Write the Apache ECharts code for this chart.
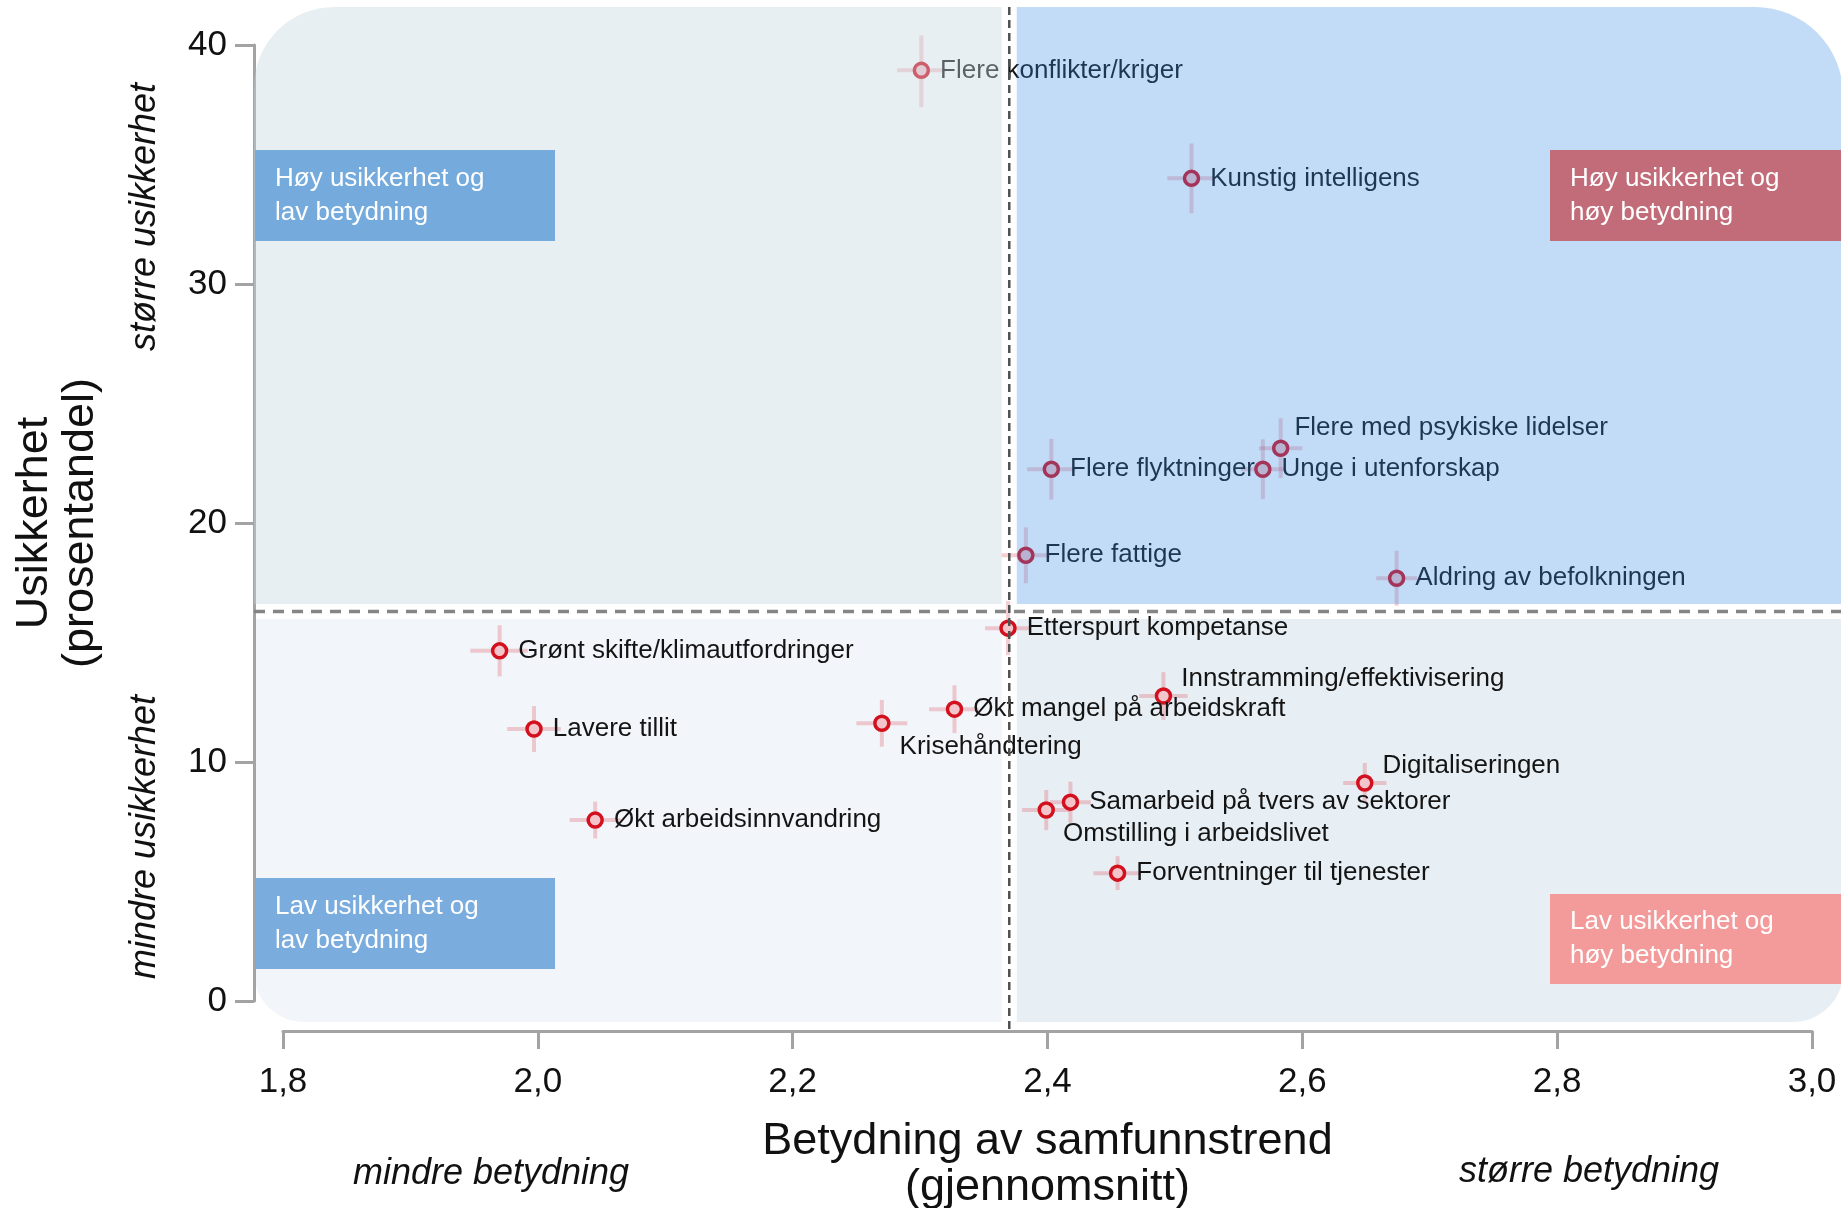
<!DOCTYPE html>
<html>
<head>
<meta charset="utf-8">
<title>Usikkerhet og betydning av samfunnstrender</title>
<script src="https://cdn.jsdelivr.net/npm/echarts@6/dist/echarts.min.js"></script>
<style>
  html, body { margin: 0; padding: 0; background: #fff; }
  #main { width: 1841px; height: 1208px; }
</style>
</head>
<body>
<div id="main"></div>
<script>
  // Samfunnstrender
  var trends = [
    'Flere konflikter/kriger', 'Kunstig intelligens', 'Flere med psykiske lidelser',
    'Unge i utenforskap', 'Flere flyktninger', 'Flere fattige', 'Aldring av befolkningen',
    'Etterspurt kompetanse', 'Grønt skifte/klimautfordringer', 'Innstramming/effektivisering',
    'Økt mangel på arbeidskraft', 'Krisehåndtering', 'Lavere tillit', 'Digitaliseringen',
    'Samarbeid på tvers av sektorer', 'Omstilling i arbeidslivet', 'Økt arbeidsinnvandring',
    'Forventninger til tjenester'
  ];
  // betydning (gjennomsnitt) with interval
  var betydning   = [2.301, 2.513, 2.583, 2.569, 2.403, 2.383, 2.674, 2.369, 1.970, 2.491, 2.327, 2.270, 1.997, 2.649, 2.418, 2.399, 2.045, 2.455];
  var betydningLo = [2.282, 2.494, 2.566, 2.552, 2.384, 2.364, 2.658, 2.351, 1.947, 2.472, 2.307, 2.250, 1.976, 2.632, 2.402, 2.380, 2.025, 2.436];
  var betydningHi = [2.320, 2.531, 2.600, 2.586, 2.422, 2.402, 2.690, 2.387, 1.992, 2.510, 2.346, 2.290, 2.018, 2.666, 2.434, 2.418, 2.065, 2.473];
  // usikkerhet (prosentandel) with interval
  var usikkerhet   = [38.94, 34.42, 23.13, 22.25, 22.25, 18.65, 17.69, 15.60, 14.65, 12.76, 12.21, 11.62, 11.38, 9.12, 8.32, 7.99, 7.57, 5.35];
  var usikkerhetLo = [37.40, 32.96, 21.88, 21.00, 20.98, 17.48, 16.54, 14.47, 13.58, 11.76, 11.21, 10.64, 10.42, 8.28, 7.46, 7.15, 6.80, 4.64];
  var usikkerhetHi = [40.40, 35.88, 24.38, 23.50, 23.52, 19.82, 18.84, 16.73, 15.72, 13.76, 13.21, 12.60, 12.34, 9.96, 9.18, 8.83, 8.34, 6.06];

  // reference lines (averages)
  var snittBetydning = 2.37;
  var snittUsikkerhet = 16.3;

  var xMin = 1.8, xMax = 3.0, xStep = 0.2;
  var yMin = 0, yMax = 40, yStep = 10;

  // labels that are not placed to the right of the marker
  var labelShift = {
    'Flere med psykiske lidelser': [-5, -20],
    'Innstramming/effektivisering': [-1, -17],
    'Digitaliseringen': [-1, -17],
    'Krisehåndtering': [-1, 24],
    'Omstilling i arbeidslivet': [-2, 24]
  };

  var FONT = '"Liberation Sans", Arial, sans-serif';

  var myChart = echarts.init(document.getElementById('main'));

  var barData = trends.map(function (n, i) {
    return [betydning[i], usikkerhet[i], betydningLo[i], betydningHi[i], usikkerhetLo[i], usikkerhetHi[i]];
  });
  var pointData = trends.map(function (n, i) {
    var item = { name: n, value: [betydning[i], usikkerhet[i]] };
    if (labelShift[n]) item.label = { offset: labelShift[n] };
    return item;
  });

  var option = {
    animation: false,
    grid: { left: 283, right: 29, top: 45, bottom: 207, show: false, outerBoundsMode: 'none' },
    xAxis: {
      type: 'value', min: xMin, max: xMax, interval: xStep, offset: 30,
      name: 'Betydning av samfunnstrend\n(gjennomsnitt)', nameLocation: 'middle', nameGap: 88,
      nameTextStyle: { fontFamily: FONT, fontSize: 45, lineHeight: 46, color: '#111' },
      axisLine: { onZero: false, lineStyle: { color: '#a3a3a3', width: 3 } },
      axisTick: { length: 18, lineStyle: { color: '#a3a3a3', width: 3 } },
      axisLabel: {
        fontFamily: FONT, fontSize: 35, color: '#111', margin: 34,
        formatter: function (v) { return v.toFixed(1).replace('.', ','); }
      },
      splitLine: { show: false }
    },
    yAxis: {
      type: 'value', min: yMin, max: yMax, interval: yStep, offset: 29,
      name: 'Usikkerhet\n(prosentandel)', nameLocation: 'middle', nameGap: 150,
      nameTextStyle: { fontFamily: FONT, fontSize: 45, lineHeight: 46, color: '#111' },
      axisLine: { onZero: false, lineStyle: { color: '#a3a3a3', width: 3 } },
      axisTick: { length: 19, lineStyle: { color: '#a3a3a3', width: 3 } },
      axisLabel: { fontFamily: FONT, fontSize: 35, color: '#111', margin: 27 },
      splitLine: { show: false }
    },
    series: [
      {
        type: 'custom',
        name: 'intervall',
        clip: false,
        z: 2,
        encode: { x: [0, 2, 3], y: [1, 4, 5] },
        data: barData,
        renderItem: function (params, api) {
          var xl = api.coord([api.value(2), api.value(1)]);
          var xh = api.coord([api.value(3), api.value(1)]);
          var yl = api.coord([api.value(0), api.value(4)]);
          var yh = api.coord([api.value(0), api.value(5)]);
          var st = { stroke: 'rgba(222,80,92,0.28)', lineWidth: 4 };
          return {
            type: 'group',
            children: [
              { type: 'line', shape: { x1: xl[0], y1: xl[1], x2: xh[0], y2: xh[1] }, style: st },
              { type: 'line', shape: { x1: yl[0], y1: yl[1], x2: yh[0], y2: yh[1] }, style: st }
            ]
          };
        }
      },
      {
        type: 'scatter',
        name: 'trender',
        z: 3,
        symbol: 'circle',
        symbolSize: 14,
        itemStyle: { color: '#f3c5ca', borderColor: '#d2101e', borderWidth: 3.5, opacity: 1 },
        label: {
          show: true, position: 'right', distance: 10,
          formatter: '{b}', fontFamily: FONT, fontSize: 26, color: '#141414'
        },
        data: pointData
      }
    ]
  };

  myChart.setOption(option);

  // quadrant panels, reference lines and notes, placed from the axes
  var mid = myChart.convertToPixel({ gridIndex: 0 }, [snittBetydning, snittUsikkerhet]);
  var mx = mid[0], my = mid[1];
  var frame = { left: 254, top: 7, right: 1843, bottom: 1022 };
  var axisBottom = myChart.convertToPixel({ gridIndex: 0 }, [xMin, yMin])[1] + 30;
  var gap = 7.5;

  function panel(x, y, w, h, r, fill, z) {
    return { type: 'rect', silent: true, z: z, shape: { x: x, y: y, width: w, height: h, r: r }, style: { fill: fill } };
  }
  function box(x, y, w, h, fill, text) {
    return [
      { type: 'rect', silent: true, z: 20, shape: { x: x, y: y, width: w, height: h }, style: { fill: fill } },
      {
        type: 'text', silent: true, z: 21, x: x + 20, y: y + h / 2,
        style: { text: text, fill: '#fff', fontFamily: FONT, fontSize: 26, lineHeight: 34, verticalAlign: 'middle', align: 'left' }
      }
    ];
  }
  function note(x, y, text, rot) {
    return {
      type: 'text', silent: true, z: 21, x: x, y: y, rotation: rot,
      style: { text: text, fill: '#111', fontFamily: FONT, fontSize: 36, fontStyle: 'italic', align: 'center', verticalAlign: 'middle' }
    };
  }

  var els = [
    panel(frame.left, my + gap, mx - gap - frame.left, frame.bottom - my - gap, [0, 0, 0, 50], '#f2f6fa', 0),
    panel(mx + gap, my + gap, frame.right - mx - gap, frame.bottom - my - gap, [0, 0, 50, 0], '#e8eff4', 0),
    panel(frame.left, frame.top, mx - gap - frame.left, my - gap - frame.top, [80, 0, 0, 0], 'rgba(198,215,225,0.4)', 10),
    panel(mx + gap, frame.top, frame.right - mx - gap, my - gap - frame.top, [0, 88, 0, 0], 'rgba(52,138,228,0.3)', 10),
    {
      type: 'line', silent: true, z: 12,
      shape: { x1: mx, y1: frame.top, x2: mx, y2: axisBottom },
      style: { stroke: '#505050', lineWidth: 2.5, lineDash: [8, 5] }
    },
    {
      type: 'line', silent: true, z: 12,
      shape: { x1: frame.left, y1: my, x2: frame.right, y2: my },
      style: { stroke: '#858585', lineWidth: 3.5, lineDash: [11, 8] }
    },
    note(145, 217, 'større usikkerhet', Math.PI / 2),
    note(145, 837, 'mindre usikkerhet', Math.PI / 2),
    note(491, 1174, 'mindre betydning', 0),
    note(1589, 1172, 'større betydning', 0)
  ];
  els = els
    .concat(box(255, 150, 300, 91, '#75aadd', 'Høy usikkerhet og\nlav betydning'))
    .concat(box(1550, 150, 295, 91, '#c26c7a', 'Høy usikkerhet og\nhøy betydning'))
    .concat(box(255, 878, 300, 91, '#7aacde', 'Lav usikkerhet og\nlav betydning'))
    .concat(box(1550, 894, 295, 90, '#f39a9b', 'Lav usikkerhet og\nhøy betydning'));

  myChart.setOption({ graphic: { elements: els } });
</script>
</body>
</html>
